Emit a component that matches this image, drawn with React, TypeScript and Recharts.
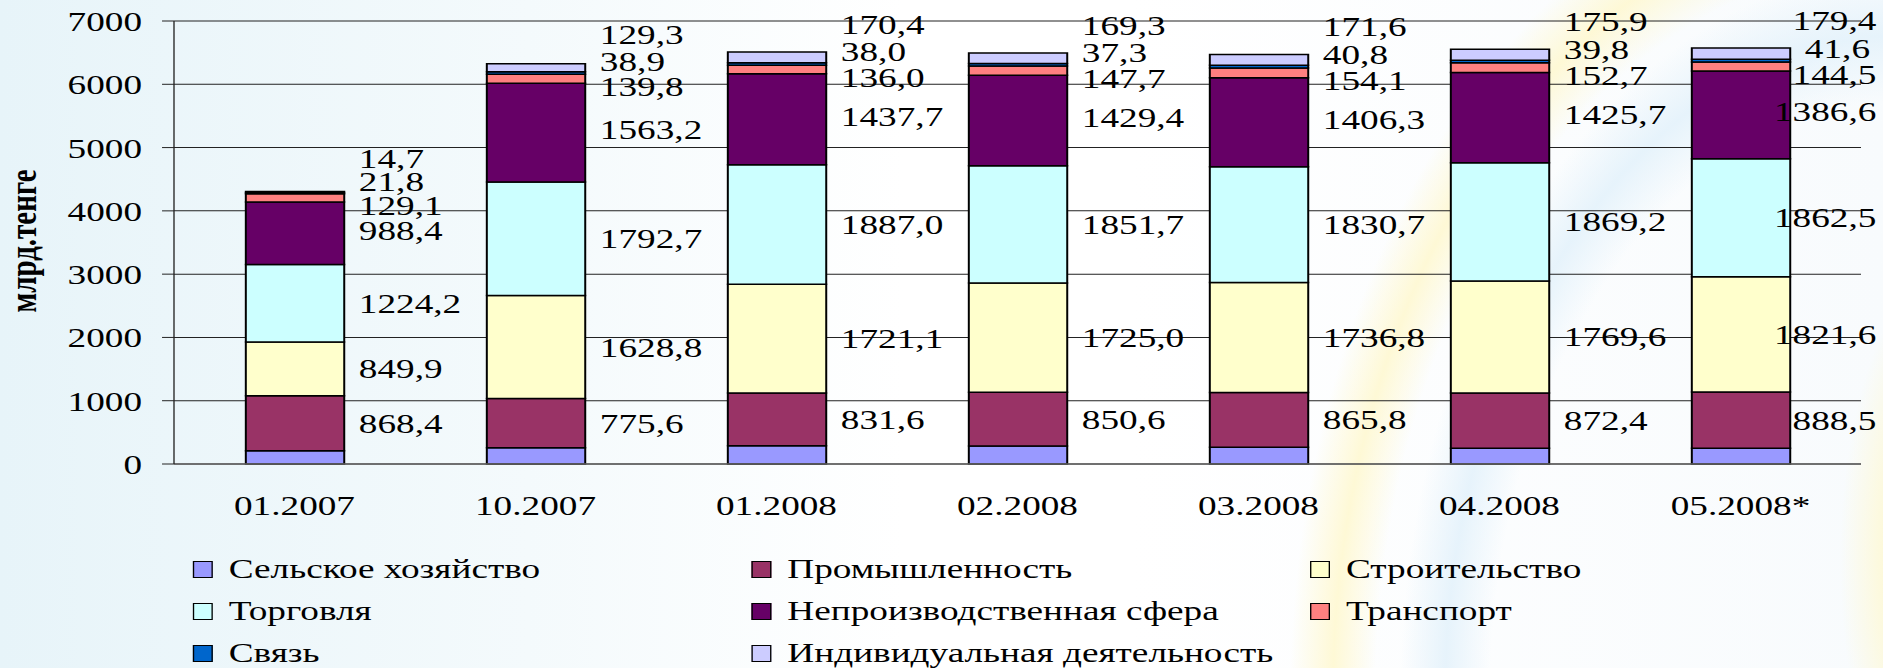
import React from "react";
import { BarChart, Bar, XAxis, YAxis, CartesianGrid, Legend, LabelList, Label } from "recharts";

// periods and values (млрд тенге)
const periods = ["01.2007", "10.2007", "01.2008", "02.2008", "03.2008", "04.2008", "05.2008*"];
const agriculture = [210, 258, 289, 285, 265, 250, 250];
const industry = [868.4, 775.6, 831.6, 850.6, 865.8, 872.4, 888.5];
const construction = [849.9, 1628.8, 1721.1, 1725.0, 1736.8, 1769.6, 1821.6];
const trade = [1224.2, 1792.7, 1887.0, 1851.7, 1830.7, 1869.2, 1862.5];
const nonProduction = [988.4, 1563.2, 1437.7, 1429.4, 1406.3, 1425.7, 1386.6];
const transport = [129.1, 139.8, 136.0, 147.7, 154.1, 152.7, 144.5];
const communication = [21.8, 38.9, 38.0, 37.3, 40.8, 39.8, 41.6];
const individual = [14.7, 129.3, 170.4, 169.3, 171.6, 175.9, 179.4];
const yTicks = [0, 1000, 2000, 3000, 4000, 5000, 6000, 7000];

// the slide is stretched horizontally, so the chart is drawn narrow and widened
const SX = 1.33;
const W = 1883 / SX;
const H = 668;
const FONT = '"Liberation Serif", "Times New Roman", serif';
const FS = 28;

type Series = { key: string; name: string; color: string; values: number[]; label: boolean; dy: number };

const series: Series[] = [
  { key: "agr", name: "Сельское хозяйство", color: "#9999ff", values: agriculture, label: false, dy: 0 },
  { key: "ind", name: "Промышленность", color: "#993366", values: industry, label: true, dy: 0 },
  { key: "con", name: "Строительство", color: "#ffffcc", values: construction, label: true, dy: 0 },
  { key: "trd", name: "Торговля", color: "#ccffff", values: trade, label: true, dy: 0 },
  { key: "npr", name: "Непроизводственная сфера", color: "#660066", values: nonProduction, label: true, dy: -3 },
  { key: "trn", name: "Транспорт", color: "#ff8080", values: transport, label: true, dy: 8 },
  { key: "com", name: "Связь", color: "#0066cc", values: communication, label: true, dy: -12 },
  { key: "idv", name: "Индивидуальная деятельность", color: "#ccccff", values: individual, label: true, dy: -33 },
];

const data = periods.map((period, i) => {
  const row: Record<string, string | number> = { period };
  series.forEach((s) => (row[s.key] = s.values[i]));
  return row;
});

const boundaries = periods.map((_, i) => i).concat(periods.length);

function makeLabel(dy: number) {
  return (props: any) => {
    const { x, y, width, height, value } = props;
    const text = Number(value).toFixed(1).replace(".", ",");
    const start = Number(x) + Number(width) + 11;
    const est = (text.length - 0.5) * 0.5 * FS;
    const limit = W - 5;
    const over = start + est > limit;
    return (
      <text
        x={over ? limit : start}
        y={Number(y) + Number(height) / 2 + dy}
        dy="0.34em"
        textAnchor={over ? "end" : "start"}
        fontSize={FS}
        fontFamily={FONT}
        fill="#000"
      >
        {text}
      </text>
    );
  };
}

const order = series.map((s) => s.name);

const renderLegend = (props: any) => {
  const items = [...(props.payload ?? [])].sort(
    (a: any, b: any) => order.indexOf(a.value) - order.indexOf(b.value)
  );
  return (
    <div
      style={{
        display: "grid",
        gridTemplateColumns: "repeat(3, 420px)",
        gridAutoRows: "42px",
        fontFamily: FONT,
        fontSize: 28,
        lineHeight: "30px",
        color: "#000",
      }}
    >
      {items.map((it: any) => (
        <div key={it.value} style={{ display: "flex", alignItems: "center" }}>
          <span
            style={{
              width: 15,
              height: 17,
              background: it.color,
              border: "1.5px solid #000",
              boxSizing: "border-box",
              marginRight: 12,
              flex: "none",
            }}
          />
          <span style={{ whiteSpace: "nowrap" }}>{it.value}</span>
        </div>
      ))}
    </div>
  );
};

export default function App() {
  return (
    <div
      style={{
        position: "absolute",
        left: 0,
        top: 0,
        width: 1883,
        height: H,
        overflow: "hidden",
        background:
          "radial-gradient(ellipse 610px 855px at 1900px 700px, rgba(255,248,205,0) 86%, rgba(255,247,200,0.75) 93%, rgba(255,248,205,0) 100%)," +
          "radial-gradient(ellipse 500px 730px at 1900px 700px, rgba(228,242,251,0) 82%, rgba(228,242,251,0.9) 91%, rgba(228,242,251,0) 100%)," +
          "radial-gradient(ellipse 120px 300px at 1960px 560px, rgba(255,248,205,0.8) 60%, rgba(255,248,205,0) 100%)," +
          "linear-gradient(90deg, #e7f4f9 0%, #f4fafc 28%, #ffffff 48%, #ffffff 60%, #f8fbfd 100%)",
      }}
    >
      <div style={{ transform: `scaleX(${SX})`, transformOrigin: "0 0", width: W, height: H }}>
        <BarChart
          width={W}
          height={H}
          data={data}
          margin={{ top: 21, right: W - 1861 / SX, left: 0, bottom: 202 }}
        >
          <CartesianGrid horizontal vertical={false} stroke="#222" strokeWidth={1} />
          <XAxis
            dataKey="period"
            height={1}
            tickLine={false}
            tickSize={0}
            tickMargin={31}
            axisLine={{ stroke: "#666", strokeWidth: 1.5 }}
            tick={{ fill: "#000", fontSize: FS, fontFamily: FONT }}
          />
          <XAxis
            xAxisId="bounds"
            type="number"
            domain={[0, periods.length]}
            allowDataOverflow
            ticks={boundaries}
            tick={false}
            tickSize={9}
            axisLine={false}
            tickLine={{ stroke: "#666" }}
            height={1}
          />
          <YAxis
            width={174 / SX}
            domain={[0, 7000]}
            ticks={yTicks}
            interval={0}
            tickSize={9}
            tickMargin={15}
            axisLine={{ stroke: "#222" }}
            tickLine={{ stroke: "#222" }}
            tick={{ fill: "#000", fontSize: FS, fontFamily: FONT }}
          >
            <Label
              content={() => (
                <text
                  x={18}
                  y={241}
                  transform="rotate(-90, 18, 241)"
                  textAnchor="middle"
                  dy="0.3em"
                  fontSize={29}
                  fontWeight="bold"
                  fontFamily={FONT}
                  fill="#000"
                >
                  млрд.тенге
                </text>
              )}
            />
          </YAxis>
          <Legend
            layout="horizontal"
            verticalAlign="middle"
            align="center"
            content={renderLegend}
            wrapperStyle={{ top: 548, left: 145, width: 1270, height: 120 }}
          />
          {series.map((s) => (
            <Bar
              key={s.key}
              dataKey={s.key}
              name={s.name}
              stackId="a"
              fill={s.color}
              stroke="#000"
              strokeWidth={1.5}
              barSize={74}
              isAnimationActive={false}
            >
              {s.label && <LabelList dataKey={s.key} content={makeLabel(s.dy)} />}
            </Bar>
          ))}
        </BarChart>
      </div>
    </div>
  );
}
